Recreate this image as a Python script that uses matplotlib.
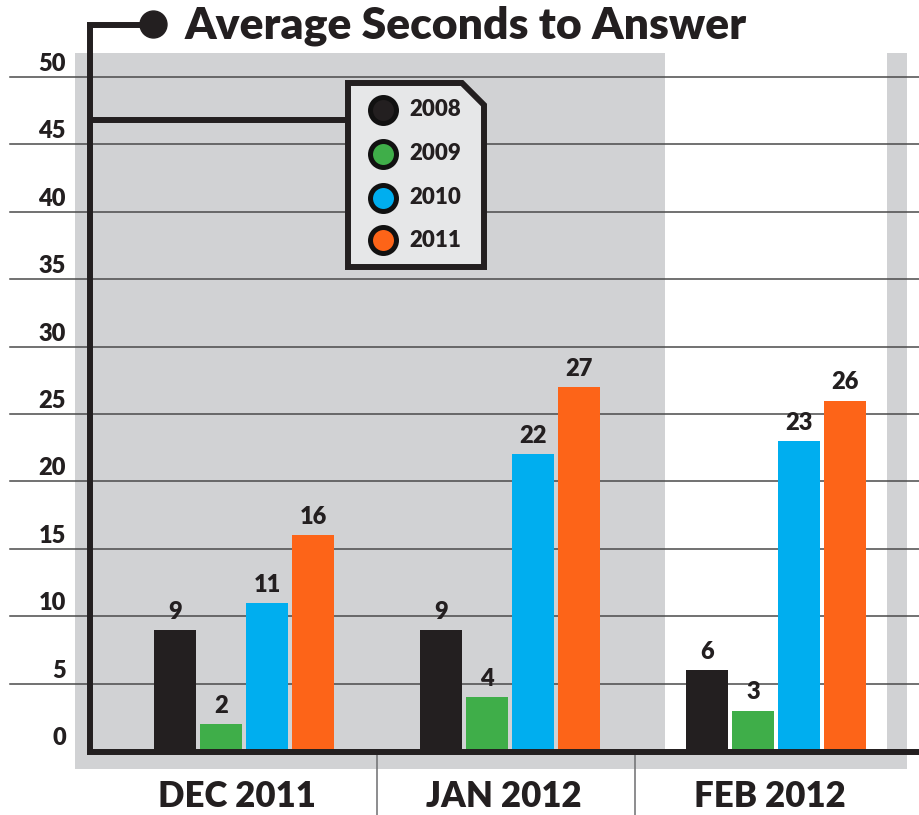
import matplotlib.pyplot as plt
from matplotlib.patches import Rectangle, Polygon
from matplotlib.lines import Line2D

# data
months = ['DEC 2011', 'JAN 2012', 'FEB 2012']
years = ['2008', '2009', '2010', '2011']
sec_2008 = [9, 9, 6]
sec_2009 = [2, 4, 3]
sec_2010 = [11, 22, 23]
sec_2011 = [16, 27, 26]
y_ticks = [0, 5, 10, 15, 20, 25, 30, 35, 40, 45, 50]

series = [sec_2008, sec_2009, sec_2010, sec_2011]
colors = ['#231f20', '#3fae49', '#00aeef', '#fd6418']
ink = '#231f20'
gray = '#d1d2d4'

plt.rcParams['font.family'] = ['Lato', 'DejaVu Sans']
plt.rcParams['font.weight'] = 800

W, H = 920, 815
fig = plt.figure(figsize=(W / 100, H / 100), dpi=100)


def fx(x):
    return x / W


def fy(y):
    return 1 - y / H


# plot area (pixel layout of the reference)
ax = fig.add_axes([fx(90), fy(751), fx(920) - fx(90), fy(77) - fy(751)])
ax.set_xlim(-0.579, 2.541)
ax.set_ylim(0, 50)
ax.axis('off')

# shaded panels behind the plot
for x0, y0, x1, y1 in [(75, 53, 665, 769), (665, 749, 907, 769), (887, 53, 907, 769)]:
    fig.patches.append(Rectangle((fx(x0), fy(y1)), fx(x1) - fx(x0), fy(y0) - fy(y1),
                                 transform=fig.transFigure, facecolor=gray,
                                 edgecolor='none', zorder=-1))

# gridlines running out to the left edge
ytrans = ax.get_yaxis_transform()
for v in y_ticks[1:]:
    ax.plot([-0.0964, 1], [v, v], transform=ytrans, color='#4a4a4a', lw=1.1,
            clip_on=False, zorder=1)
for v in y_ticks:
    ax.text(-0.029, v + 0.45, str(v), transform=ytrans, ha='right', va='baseline',
            fontsize=17, color=ink, clip_on=False)

# bars
offsets = [-0.259, -0.0865, 0.0865, 0.259]
width = 0.158
for vals, col, off in zip(series, colors, offsets):
    xs = [i + off for i in range(len(months))]
    ax.bar(xs, vals, width, color=col, zorder=3)
    for x, v in zip(xs, vals):
        ax.annotate(str(v), (x, v), xytext=(0, 8), textcoords='offset points',
                    ha='center', va='baseline', fontsize=17, color=ink, zorder=4)

# category labels and separators
xtrans = ax.get_xaxis_transform()
for i, m in enumerate(months):
    ax.text(i - 0.025, -0.083, m, transform=xtrans, ha='center', va='baseline',
            fontsize=25, color=ink, clip_on=False)
for sx in [0.5, 1.47]:
    ax.plot([sx, sx], [-0.006, -0.095], transform=xtrans, color='#6d6e70',
            lw=1.1, clip_on=False)

# thick axis frame, title connector and legend connector
lw = 4.3
for (x0, y0), (x1, y1) in [((90, 25), (90, 754)), ((87, 751.5), (920, 751.5)),
                           ((87, 25), (150, 25)), ((90, 120), (348, 120))]:
    fig.add_artist(Line2D([fx(x0), fx(x1)], [fy(y0), fy(y1)], color=ink, lw=lw,
                          transform=fig.transFigure, solid_capstyle='butt', zorder=5))
fig.add_artist(Line2D([fx(153)], [fy(24)], marker='o', ms=19.4, color=ink,
                      transform=fig.transFigure, zorder=6))
fig.text(fx(185), fy(38), 'Average Seconds to Answer', fontsize=32, color=ink,
         va='baseline', ha='left')

# legend box with clipped corner
box = [(348, 83), (462, 83), (484, 105), (484, 267), (348, 267)]
fig.patches.append(Polygon([(fx(x), fy(y)) for x, y in box], closed=True,
                           transform=fig.transFigure, facecolor='#e6e7e8',
                           edgecolor=ink, lw=4.3, joinstyle='miter', zorder=6))
for yr, col, ly in zip(years, colors, [110, 154, 198, 240]):
    fig.add_artist(Line2D([fx(383)], [fy(ly)], marker='o', ms=18.7, mew=3.6,
                          markerfacecolor=col, markeredgecolor='#111111',
                          transform=fig.transFigure, zorder=7))
    fig.text(fx(409), fy(ly), yr, fontsize=16, color=ink, va='center', ha='left',
             zorder=7)

fig.savefig('out.png', dpi=100)
